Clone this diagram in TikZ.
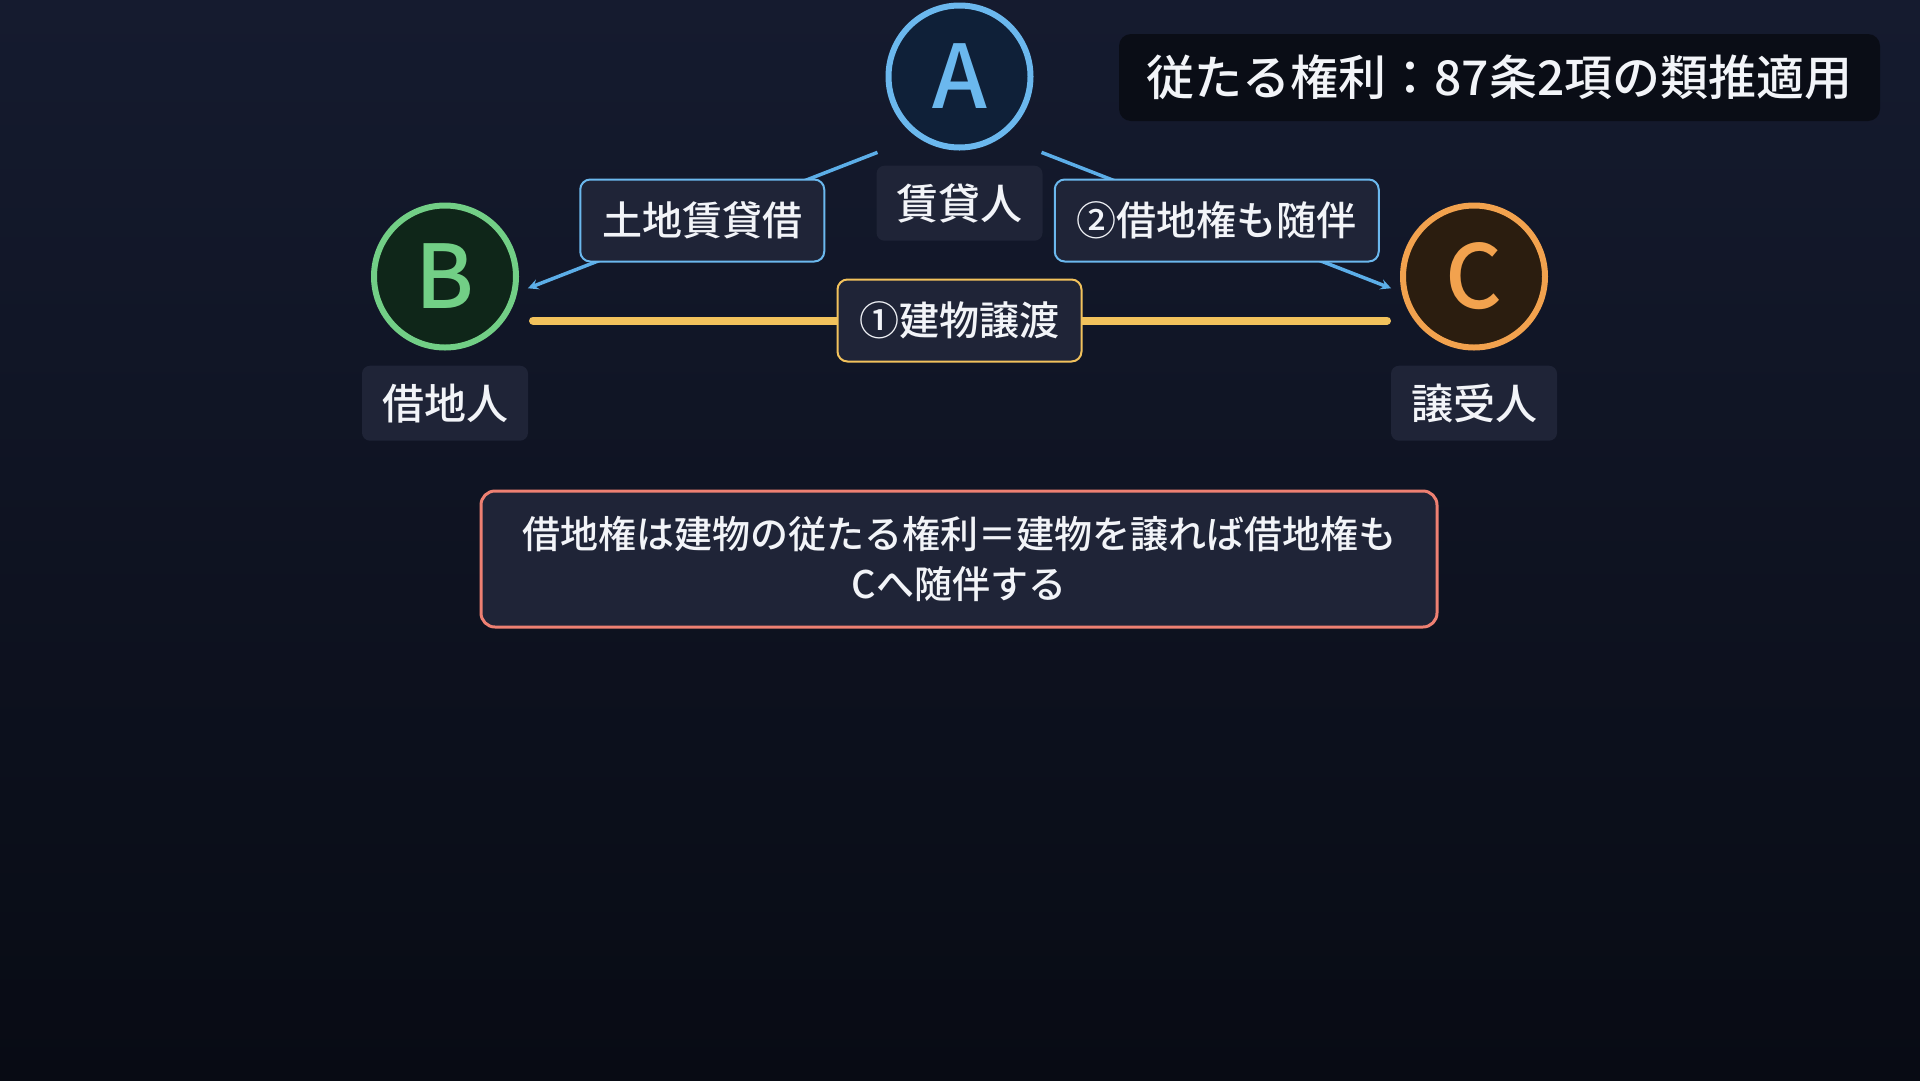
\documentclass[tikz,border=0pt]{standalone}
\usepackage{fontspec}
\setmainfont{Noto Sans CJK JP Medium}
\usetikzlibrary{positioning}

\definecolor{bgtop}{HTML}{151B2F}
\definecolor{bgbot}{HTML}{080B14}
\definecolor{boxfill}{HTML}{1F2437}
\definecolor{titlefill}{HTML}{0A0D16}
\definecolor{txt}{HTML}{F2F4F8}
\definecolor{blueA}{HTML}{6BB8EE}
\definecolor{blueAfill}{HTML}{0F2038}
\definecolor{linkblue}{HTML}{5CAEE8}
\definecolor{greenB}{HTML}{72CF86}
\definecolor{greenBfill}{HTML}{0F2619}
\definecolor{orangeC}{HTML}{F2A24E}
\definecolor{orangeCfill}{HTML}{2B1D0F}
\definecolor{yellowline}{HTML}{F2C25C}
\definecolor{salmon}{HTML}{EE8072}

\begin{document}
\begin{tikzpicture}[x=1pt, y=-1pt, >=stealth, align=center,
    person/.style={circle, line width=6pt, minimum size=142pt, inner sep=0pt, font=\fontsize{88}{88}\selectfont},
    role/.style={rectangle, rounded corners=8pt, fill=boxfill, text=txt, minimum width=166pt, minimum height=75pt, inner sep=0pt, font=\fontsize{42}{50}\selectfont},
    edgelbl/.style={rectangle, rounded corners=10pt, fill=boxfill, text=txt, line width=2pt, minimum height=82pt, inner xsep=22pt, inner ysep=0pt, font=\fontsize{40}{48}\selectfont},
    link/.style={line width=3.5pt, shorten <=88pt, shorten >=89pt}]
    % BACKGROUND
    \shade[top color=bgtop, bottom color=bgbot] (0,0) rectangle (1920,1080);
    \useasboundingbox (0,0) rectangle (1920,1080);

    % PARTIES
    \node (A) at (959.5, 76.5) [person, draw=blueA, fill=blueAfill, text=blueA] {A};
    \node (B) at (445, 276.5) [person, draw=greenB, fill=greenBfill, text=greenB] {B};
    \node (C) at (1474, 276.5) [person, draw=orangeC, fill=orangeCfill, text=orangeC] {C};

    \node (roleA) [role, below=15pt of A] {賃貸人};
    \node (roleB) [role, below=15pt of B] {借地人};
    \node (roleC) [role, below=15pt of C] {譲受人};

    % CONNEXIONS
    \draw[->, link, linkblue] ([yshift=-44pt]A.center) -- node[edgelbl, draw=blueA] {土地賃貸借} ([yshift=-44pt]B.center);
    \draw[->, link, linkblue] ([yshift=-44pt]A.center) -- node[edgelbl, draw=blueA] {②借地権も随伴} ([yshift=-44pt]C.center);
    \draw[link, yellowline, line width=8pt, line cap=round, shorten >=87pt] ([yshift=-44pt]B.center) -- node[edgelbl, draw=yellowline] {①建物譲渡} ([yshift=-44pt]C.center);

    % TITLE AND NOTE
    \node (title) at (1499.5, 77.5) [rectangle, rounded corners=12pt, fill=titlefill, text=txt, minimum width=761pt, minimum height=87pt, font=\fontsize{48}{56}\selectfont] {従たる権利：87条2項の類推適用};
    \node (note) at (959, 559) [rectangle, rounded corners=14pt, fill=boxfill, draw=salmon, line width=3pt, text=txt, minimum width=956pt, minimum height=136pt, font=\fontsize{38}{50}\selectfont] {借地権は建物の従たる権利＝建物を譲れば借地権も\\Cへ随伴する};
\end{tikzpicture}
\end{document}
